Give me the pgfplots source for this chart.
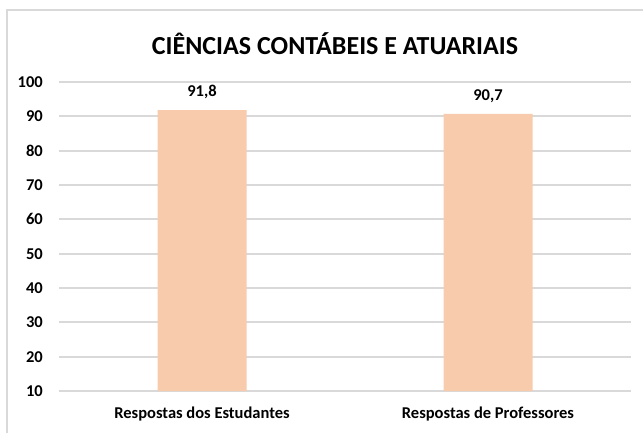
\documentclass[border=0pt]{standalone}
\usepackage{fontspec}
\setmainfont{Carlito}
\usepackage{pgfplots}
\pgfplotsset{compat=1.18}
\definecolor{barc}{HTML}{F8CBAD}
\definecolor{gridc}{HTML}{D9D9D9}
\begin{document}
\begin{tikzpicture}[x=1pt,y=1pt]
\useasboundingbox (0,0) rectangle (643,432);
\fill[white] (0,0) rectangle (643,432);
\draw[gridc, line width=2pt] (7,-20) -- (7,422) -- (670,422);
\node[font=\fontsize{26}{30}\selectfont\bfseries] at (335,388) {CIÊNCIAS CONTÁBEIS E ATUARIAIS};
\begin{axis}[at={(59pt,41pt)}, anchor=south west, scale only axis,
  width=572pt, height=309pt,
  xmin=-0.5, xmax=1.5, ymin=10, ymax=100,
  ytick={10,20,...,100}, xtick={0,1},
  xticklabels={Respostas dos Estudantes, Respostas de Professores},
  axis line style={draw=none},
  ymajorgrids, grid style={gridc, line width=2pt},
  major tick length=0pt,
  tick label style={font=\fontsize{16.5}{19}\selectfont\bfseries},
  /pgf/number format/assume math mode=true,
  yticklabel style={anchor=east, inner sep=0pt, xshift=-16pt},
  xticklabel style={anchor=center, inner sep=0pt, yshift=-23pt},
  ybar, bar width=89pt,
  nodes near coords={\pgfmathprintnumber[use comma,fixed,fixed zerofill,precision=1,assume math mode=true]{\pgfplotspointmeta}},
  nodes near coords style={font=\fontsize{16.5}{19}\selectfont\bfseries, anchor=center, yshift=18pt, inner sep=0pt},
  clip=false,
]
\addplot[fill=barc, draw=none] coordinates {(0,91.8) (1,90.7)};
\end{axis}
\end{tikzpicture}
\end{document}
